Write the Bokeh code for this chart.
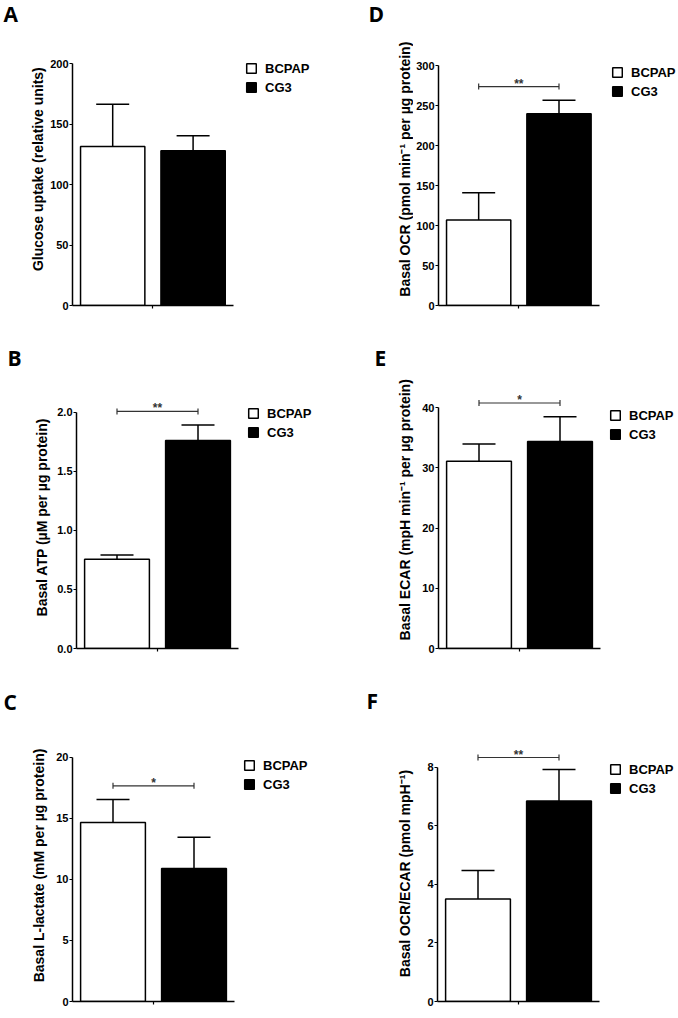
import math
from bokeh.plotting import figure
from bokeh.models import (Range1d, Label, Legend, LegendItem, Whisker, TeeHead,
                          ColumnDataSource, FixedTicker, NumeralTickFormatter)
from bokeh.layouts import column, row
from bokeh.embed import file_html
from bokeh.resources import INLINE

# ---------------- data ----------------
groups = ["BCPAP", "CG3"]

glucose_mean = [131.5, 128.0]
glucose_sem = [35.0, 12.4]
atp_mean = [0.755, 1.76]
atp_sem = [0.035, 0.13]
lactate_mean = [14.65, 10.88]
lactate_sem = [1.88, 2.56]
ocr_mean = [107.0, 239.6]
ocr_sem = [34.0, 17.0]
ecar_mean = [31.1, 34.4]
ecar_sem = [2.9, 4.1]
ratio_mean = [3.5, 6.85]
ratio_sem = [0.98, 1.08]

glucose_ticks = [0, 50, 100, 150, 200]
atp_ticks = [0.0, 0.5, 1.0, 1.5, 2.0]
lactate_ticks = [0, 5, 10, 15, 20]
ocr_ticks = [0, 50, 100, 150, 200, 250, 300]
ecar_ticks = [0, 10, 20, 30, 40]
ratio_ticks = [0, 2, 4, 6, 8]

# significance bracket: (bracket level, stars)
atp_sig = (2.005, "**")
lactate_sig = (17.66, "*")
ocr_sig = (273.7, "**")
ecar_sig = (40.8, "*")
ratio_sig = (8.34, "**")

# ---------------- layout (page pixel geometry) ----------------
XPPU = 81.0   # px per category step
AXW = 23      # width reserved for y tick labels
FONT = "Liberation Sans"


def make_panel(letter, ylabel, means, sems, ticks, sig, fmt, geo):
    fx, fy, fw, fh = geo["fig"]
    ax, zy, ty = geo["axis_x"], geo["zero_y"], geo["top_y"]
    top_val = ticks[-1]
    ppu = (zy - ty) / top_val

    # ---- side strip with panel letter and y title ----
    lw = int(round(ax - fx)) - AXW
    s = figure(width=lw, height=fh, output_backend="svg", toolbar_location=None,
               x_range=Range1d(0, lw), y_range=Range1d(0, fh),
               x_axis_type=None, y_axis_type=None,
               min_border_left=0, min_border_right=0, min_border_top=0, min_border_bottom=0)
    s.outline_line_color = None
    s.background_fill_color = "white"
    s.border_fill_color = "white"
    gx, gy = geo["letter"]
    s.add_layout(Label(x=gx - fx, y=fh - (gy - fy), text=letter,
                       text_align="left", text_baseline="middle",
                       text_font="Open Sans", text_font_style="bold",
                       text_font_size="21px", text_color="black"))
    lx, ly = geo["ylabel"]
    s.add_layout(Label(x=lx - fx, y=fh - (ly - fy), text=ylabel, angle=math.pi / 2,
                       text_align="center", text_baseline="middle",
                       text_font=FONT, text_font_style="bold",
                       text_font_size="14px", text_color="black"))

    # ---- main plot ----
    mw = fw - lw
    frame_h = int(round(zy - fy))
    bottom = fh - frame_h
    frame_w = mw - AXW
    p = figure(width=mw, height=fh, output_backend="svg", toolbar_location=None,
               x_range=Range1d(0.5, 0.5 + frame_w / XPPU),
               y_range=Range1d(0, frame_h / ppu),
               min_border_left=AXW, min_border_right=0,
               min_border_top=0, min_border_bottom=bottom)
    p.outline_line_color = None
    p.grid.visible = False
    p.background_fill_color = "white"
    p.border_fill_color = "white"

    xa = p.xaxis[0]
    xa.ticker = FixedTicker(ticks=[1.5])
    xa.major_label_text_font_size = "0px"
    xa.major_label_standoff = 0
    xa.major_label_overrides = {1.5: ""}
    xa.major_tick_out = 3
    xa.major_tick_in = 0
    xa.minor_tick_out = 0
    xa.minor_tick_in = 0
    xa.axis_line_width = 1.5
    xa.major_tick_line_width = 1.2
    xa.bounds = (0.5, 2.5)

    ya = p.yaxis[0]
    ya.ticker = FixedTicker(ticks=ticks)
    ya.formatter = NumeralTickFormatter(format=fmt)
    ya.bounds = (0, top_val)
    ya.major_tick_out = 3
    ya.major_tick_in = 0
    ya.minor_tick_out = 0
    ya.minor_tick_in = 0
    ya.axis_line_width = 1.5
    ya.major_tick_line_width = 1.2
    ya.major_label_standoff = 1
    ya.major_label_text_font = FONT
    ya.major_label_text_font_style = "bold"
    ya.major_label_text_font_size = "11px"
    ya.major_label_text_color = "black"

    xs = [i + 1 for i in range(len(groups))]
    fills = ["white", "black"]
    rends = []
    for i in range(len(groups)):
        r = p.vbar(x=[xs[i]], top=[means[i]], width=0.8, bottom=0,
                   fill_color=fills[i], line_color="black", line_width=1.5)
        rends.append(r)

    esrc = ColumnDataSource(dict(x=xs, lower=means,
                                 upper=[m + e for m, e in zip(means, sems)]))
    p.add_layout(Whisker(source=esrc, base="x", lower="lower", upper="upper",
                         dimension="height", line_width=1.5, line_color="black",
                         upper_head=TeeHead(size=33, line_width=1.5, line_color="black"),
                         lower_head=None, level="underlay"))

    if sig is not None:
        sy, stars = sig
        ssrc = ColumnDataSource(dict(base=[sy], lower=[xs[0]], upper=[xs[1]]))
        p.add_layout(Whisker(source=ssrc, base="base", lower="lower", upper="upper",
                             dimension="width", line_width=1.2, line_color="#333333",
                             upper_head=TeeHead(size=6, line_width=1.2, line_color="#333333"),
                             lower_head=TeeHead(size=6, line_width=1.2, line_color="#333333")))
        p.add_layout(Label(x=(xs[0] + xs[1]) / 2, y=sy, y_offset=3, text=stars,
                           text_align="center", text_baseline="alphabetic",
                           text_font=FONT, text_font_style="bold",
                           text_font_size="12px", text_color="#333333"))

    gx0, gy0 = geo["legend"]
    legend = Legend(items=[LegendItem(label=groups[i], renderers=[rends[i]]) for i in range(len(groups))],
                    location=(gx0 - ax, zy - (gy0 + 39)),
                    glyph_width=12, glyph_height=12, label_standoff=8, spacing=3,
                    padding=0, margin=0, label_height=16,
                    border_line_color=None, background_fill_alpha=0,
                    label_text_font=FONT, label_text_font_style="bold",
                    label_text_font_size="13px", label_text_color="black")
    p.add_layout(legend)
    return [s, p]


geoA = dict(fig=(0, 0, 339, 330), axis_x=70, zero_y=309, top_y=64,
            ylabel=(37, 182.5), letter=(3, 15), legend=(243, 60))
geoD = dict(fig=(339, 0, 339, 330), axis_x=436, zero_y=305, top_y=65,
            ylabel=(404.5, 182.5), letter=(368, 15), legend=(609, 60))
geoB = dict(fig=(0, 330, 339, 340), axis_x=76, zero_y=655, top_y=413.3,
            ylabel=(41.5, 529.5), letter=(7, 359), legend=(247, 408))
geoE = dict(fig=(339, 330, 339, 340), axis_x=438, zero_y=648, top_y=407.3,
            ylabel=(404.5, 521.7), letter=(374, 359), legend=(609, 403))
geoC = dict(fig=(0, 670, 339, 348), axis_x=72, zero_y=1001, top_y=756.7,
            ylabel=(38.5, 875), letter=(3, 703.5), legend=(243, 753))
geoF = dict(fig=(339, 670, 339, 348), axis_x=437, zero_y=1009, top_y=769.3,
            ylabel=(404.5, 883.5), letter=(366, 702.5), legend=(609, 765))

pA = make_panel("A", "Glucose uptake (relative units)", glucose_mean, glucose_sem,
                glucose_ticks, None, "0", geoA)
pB = make_panel("B", "Basal ATP (µM per µg protein)", atp_mean, atp_sem,
                atp_ticks, atp_sig, "0.0", geoB)
pC = make_panel("C", "Basal L-lactate (mM per µg protein)", lactate_mean, lactate_sem,
                lactate_ticks, lactate_sig, "0", geoC)
pD = make_panel("D", "Basal OCR (pmol min\u207b\u00b9 per µg protein)", ocr_mean, ocr_sem,
                ocr_ticks, ocr_sig, "0", geoD)
pE = make_panel("E", "Basal ECAR (mpH min\u207b\u00b9 per µg protein)", ecar_mean, ecar_sem,
                ecar_ticks, ecar_sig, "0", geoE)
pF = make_panel("F", "Basal OCR/ECAR (pmol mpH\u207b\u00b9)", ratio_mean, ratio_sem,
                ratio_ticks, ratio_sig, "0", geoF)

layout = column(row(*pA, *pD), row(*pB, *pE), row(*pC, *pF))
open("out.html", "w").write(file_html(layout, INLINE))
